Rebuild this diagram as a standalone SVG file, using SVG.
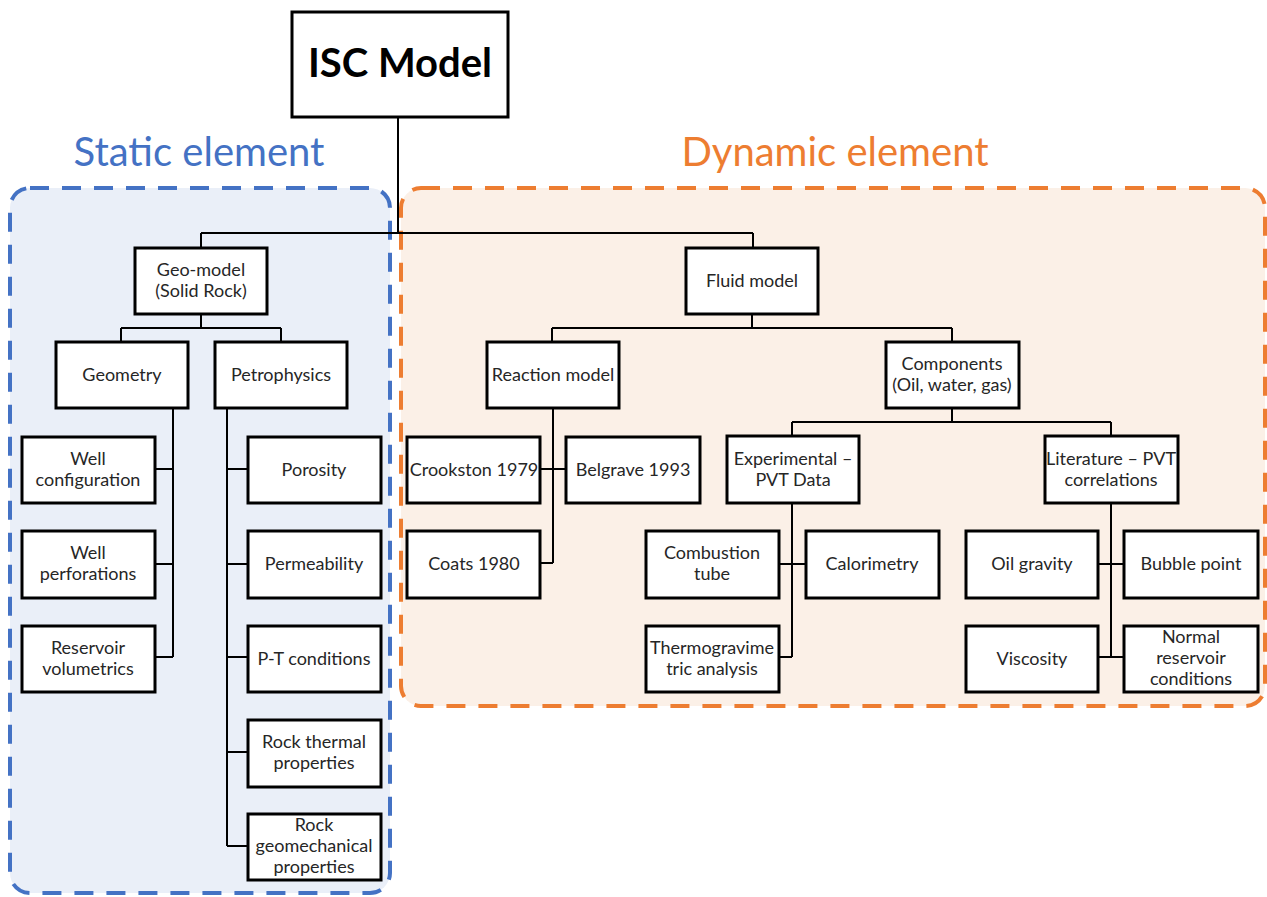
<svg xmlns="http://www.w3.org/2000/svg" width="1267" height="897" viewBox="0 0 1267 897">
<style>
.box{fill:#fff;stroke:#000;stroke-width:3}
.t{font-family:Lato,"Open Sans","Liberation Sans",sans-serif;font-size:18px;fill:#262626;text-anchor:middle}
.c{fill:none;stroke:#000;stroke-width:2}
.title{font-family:Lato,"Open Sans","Liberation Sans",sans-serif;font-size:40px;text-anchor:middle}
</style>
<rect x="0" y="0" width="1267" height="897" fill="#fff"/>
<g id="static-panel">
<rect x="10" y="188" width="380" height="705" rx="20" fill="#EAEFF8" stroke="#4472C4" stroke-width="4" stroke-dasharray="19 13"/>
<text class="title" x="199" y="166" fill="#4472C4">Static element</text>
</g>
<g id="dynamic-panel">
<rect x="401" y="188" width="864" height="518" rx="20" fill="#FBF0E7" stroke="#ED7D31" stroke-width="4" stroke-dasharray="19 13"/>
<text class="title" x="835" y="166" fill="#ED7D31">Dynamic element</text>
</g>
<g id="connectors" class="c">
<path d="M398,117V233M201,233H753M201,233V248M753,233V248"/>
<path d="M201,314V328M121,328H281M121,328V342M281,328V342"/>
<path d="M173,408V657M155,469H173M155,564H173M155,657H173"/>
<path d="M227,408V846M227,469H248M227,564H248M227,657H248M227,752H248M227,846H248"/>
<path d="M752,314V328M552,328H952M552,328V342M952,328V342"/>
<path d="M553,408V563M540,469H566M540,563H553"/>
<path d="M952,408V422M792,422H1111M792,422V436M1111,422V436"/>
<path d="M792,503V657M779,564H806M779,657H792"/>
<path d="M1111,503V657M1098,564H1124M1098,657H1124"/>
</g>
<g id="isc-model"><rect class="box" x="292" y="12" width="216" height="105"/><text x="400" y="77" style="font-family:Lato,'Open Sans',sans-serif;font-weight:bold;font-size:40px;text-anchor:middle;fill:#000">ISC Model</text></g>
<g id="geo-model"><rect class="box" x="135" y="248" width="132" height="66"/><text class="t" x="201" y="276">Geo-model</text><text class="t" x="201" y="297">(Solid Rock)</text></g>
<g id="fluid-model"><rect class="box" x="686" y="248" width="132" height="66"/><text class="t" x="752" y="287">Fluid model</text></g>
<g id="geometry"><rect class="box" x="56" y="342" width="132" height="66"/><text class="t" x="122" y="381">Geometry</text></g>
<g id="petrophysics"><rect class="box" x="215" y="342" width="132" height="66"/><text class="t" x="281" y="381">Petrophysics</text></g>
<g id="reaction-model"><rect class="box" x="487" y="342" width="132" height="66"/><text class="t" x="553" y="381">Reaction model</text></g>
<g id="components"><rect class="box" x="886" y="342" width="133" height="66"/><text class="t" x="952" y="370">Components</text><text class="t" x="952" y="391">(Oil, water, gas)</text></g>
<g id="well-configuration"><rect class="box" x="22" y="437" width="133" height="66"/><text class="t" x="88" y="465">Well</text><text class="t" x="88" y="486">configuration</text></g>
<g id="well-perforations"><rect class="box" x="22" y="531" width="133" height="67"/><text class="t" x="88" y="559">Well</text><text class="t" x="88" y="580">perforations</text></g>
<g id="reservoir-volumetrics"><rect class="box" x="22" y="626" width="133" height="66"/><text class="t" x="88" y="654">Reservoir</text><text class="t" x="88" y="675">volumetrics</text></g>
<g id="porosity"><rect class="box" x="248" y="437" width="133" height="66"/><text class="t" x="314" y="476">Porosity</text></g>
<g id="permeability"><rect class="box" x="248" y="531" width="133" height="67"/><text class="t" x="314" y="570">Permeability</text></g>
<g id="pt-conditions"><rect class="box" x="248" y="626" width="133" height="66"/><text class="t" x="314" y="665">P-T conditions</text></g>
<g id="rock-thermal"><rect class="box" x="248" y="720" width="133" height="67"/><text class="t" x="314" y="748">Rock thermal</text><text class="t" x="314" y="769">properties</text></g>
<g id="rock-geomechanical"><rect class="box" x="248" y="814" width="133" height="66"/><text class="t" x="314" y="831">Rock</text><text class="t" x="314" y="852">geomechanical</text><text class="t" x="314" y="873">properties</text></g>
<g id="crookston"><rect class="box" x="407" y="437" width="133" height="66"/><text class="t" x="474" y="476">Crookston 1979</text></g>
<g id="belgrave"><rect class="box" x="566" y="437" width="134" height="66"/><text class="t" x="633" y="476">Belgrave 1993</text></g>
<g id="coats"><rect class="box" x="407" y="531" width="133" height="67"/><text class="t" x="474" y="570">Coats 1980</text></g>
<g id="experimental"><rect class="box" x="727" y="436" width="132" height="67"/><text class="t" x="793" y="465">Experimental –</text><text class="t" x="793" y="486">PVT Data</text></g>
<g id="literature"><rect class="box" x="1045" y="436" width="133" height="67"/><text class="t" x="1111" y="465">Literature – PVT</text><text class="t" x="1111" y="486">correlations</text></g>
<g id="combustion-tube"><rect class="box" x="646" y="531" width="133" height="67"/><text class="t" x="712" y="559">Combustion</text><text class="t" x="712" y="580">tube</text></g>
<g id="calorimetry"><rect class="box" x="806" y="531" width="133" height="67"/><text class="t" x="872" y="570">Calorimetry</text></g>
<g id="thermogravimetric"><rect class="box" x="646" y="626" width="133" height="66"/><text class="t" x="712" y="654">Thermogravime</text><text class="t" x="712" y="675">tric analysis</text></g>
<g id="oil-gravity"><rect class="box" x="966" y="531" width="132" height="67"/><text class="t" x="1032" y="570">Oil gravity</text></g>
<g id="bubble-point"><rect class="box" x="1124" y="531" width="134" height="67"/><text class="t" x="1191" y="570">Bubble point</text></g>
<g id="viscosity"><rect class="box" x="966" y="626" width="132" height="66"/><text class="t" x="1032" y="665">Viscosity</text></g>
<g id="normal-reservoir"><rect class="box" x="1124" y="626" width="134" height="66"/><text class="t" x="1191" y="643">Normal</text><text class="t" x="1191" y="664">reservoir</text><text class="t" x="1191" y="685">conditions</text></g>
</svg>
